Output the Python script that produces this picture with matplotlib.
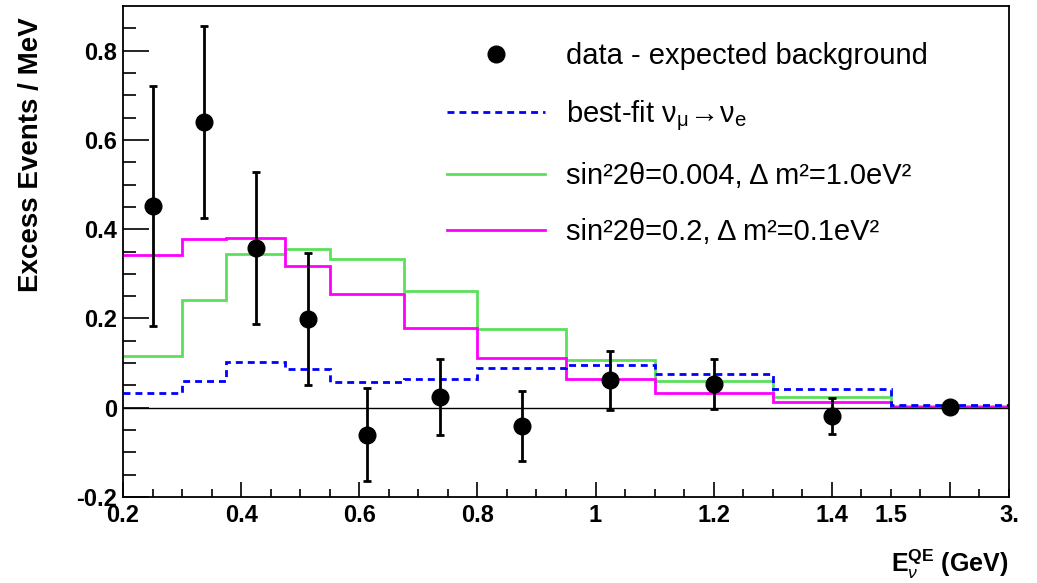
import numpy as np
import matplotlib
matplotlib.use('Agg')
import matplotlib.pyplot as plt
from matplotlib.lines import Line2D
from matplotlib.ticker import FixedLocator, FuncFormatter

plt.rcParams['font.family'] = 'Liberation Sans'
plt.rcParams['mathtext.fontset'] = 'custom'
plt.rcParams['mathtext.rm'] = 'Liberation Sans'
plt.rcParams['mathtext.it'] = 'Liberation Sans:italic'
plt.rcParams['mathtext.bf'] = 'Liberation Sans:bold'

# Bin edges (GeV), the last bin 1.5-3.0 is drawn compressed
edges = [0.2, 0.3, 0.375, 0.475, 0.55, 0.675, 0.8, 0.95, 1.1, 1.3, 1.5, 3.0]

# Data - expected background
x_pts = [0.25, 0.3375, 0.425, 0.5125, 0.6125, 0.7375, 0.875, 1.025, 1.2, 1.4, 2.25]
y_pts = [0.452, 0.640, 0.358, 0.199, -0.060, 0.024, -0.041, 0.062, 0.053, -0.019, 0.001]
y_err = [0.268, 0.216, 0.170, 0.148, 0.105, 0.085, 0.079, 0.066, 0.056, 0.040, 0.006]

# Model histograms
best_fit = [0.033, 0.061, 0.103, 0.087, 0.058, 0.064, 0.088, 0.096, 0.076, 0.043, 0.006]
green_model = [0.116, 0.241, 0.344, 0.355, 0.333, 0.261, 0.176, 0.107, 0.061, 0.025, 0.003]
magenta_model = [0.342, 0.377, 0.381, 0.318, 0.255, 0.178, 0.112, 0.065, 0.034, 0.013, 0.002]

labels = ['data - expected background',
          r'best-fit $\mathrm{\nu_{\mu}\!\rightarrow\!\nu_{e}}$',
          'sin²2θ=0.004, Δ m²=1.0eV²',
          'sin²2θ=0.2, Δ m²=0.1eV²']

# tick labels
x_major = [0.2, 0.4, 0.6, 0.8, 1.0, 1.2, 1.4, 2.25]
x_special = {1.5: '1.5', 3.0: '3.'}


# axis scale: linear up to 1.5, then 1.5-3.0 squeezed into 0.2 units
def fwd(x):
    x = np.asarray(x, dtype=float)
    return np.where(x <= 1.5, x, 1.5 + (x - 1.5) * 0.2 / 1.5)


def inv(y):
    y = np.asarray(y, dtype=float)
    return np.where(y <= 1.5, y, 1.5 + (y - 1.5) * 1.5 / 0.2)


def major_fmt(v, pos):
    if v > 1.5:
        return ''
    return f'{v:g}'


def minor_fmt(v, pos):
    for k, s in x_special.items():
        if abs(v - k) < 1e-6:
            return s
    return ''


fig = plt.figure(figsize=(10.37, 5.83), dpi=100)
ax = fig.add_axes([0.1186, 0.1475, 0.8544, 0.8422])
ax.set_xscale('function', functions=(fwd, inv))

ax.axhline(0, color='black', lw=1)
ax.stairs(green_model, edges, baseline=None, color='#5ce05c', lw=2)
ax.stairs(magenta_model, edges, baseline=None, color='#ff00ff', lw=2)
ax.stairs(best_fit, edges, baseline=None, color='#0000ff', lw=2, linestyle=(0, (2.5, 1.8)))
ax.errorbar(x_pts, y_pts, yerr=y_err, fmt='o', color='black', ms=12,
            elinewidth=2, capsize=3, capthick=2)

ax.set_xlim(0.2, 3.0)
ax.set_ylim(-0.2, 0.9)

# x ticks: majors every 0.2, minors every 0.05 (in drawn units)
disp_minor = np.round(np.arange(0.25, 1.71, 0.05), 4)
minor_x = [float(inv(v)) for v in disp_minor
           if not any(abs(float(inv(v)) - m) < 1e-6 for m in x_major)]
ax.xaxis.set_major_locator(FixedLocator(x_major))
ax.xaxis.set_major_formatter(FuncFormatter(major_fmt))
ax.xaxis.set_minor_locator(FixedLocator(minor_x))
ax.xaxis.set_minor_formatter(FuncFormatter(minor_fmt))

# y ticks
ax.set_yticks([-0.2, 0, 0.2, 0.4, 0.6, 0.8])
ax.set_yticklabels(['-0.2', '0', '0.2', '0.4', '0.6', '0.8'])
ax.set_yticks(np.arange(-0.2, 0.9, 0.05), minor=True)

ax.tick_params(axis='both', which='both', direction='in', top=False, right=False,
               width=1.2, labelsize=17, colors='black')
ax.tick_params(axis='x', which='major', length=11, pad=5)
ax.tick_params(axis='x', which='minor', length=6, pad=5)
ax.tick_params(axis='y', which='major', length=19, pad=4)
ax.tick_params(axis='y', which='minor', length=9)
for lab in ax.get_xticklabels(which='both') + ax.get_yticklabels():
    lab.set_fontweight('bold')
for s in ax.spines.values():
    s.set_linewidth(1.3)

fig.text(0.03, 1 - 155 / 583, 'Excess Events / MeV', rotation=90,
         ha='center', va='center', fontsize=20, fontweight='bold')
fig.text(0.972, 0.032, r'$\mathbf{E}_{\nu}^{\mathbf{QE}}$ (GeV)',
         ha='right', va='center', fontsize=18, fontweight='bold')

handles = [Line2D([], [], marker='o', color='black', ls='none', ms=12),
           Line2D([], [], color='#0000ff', lw=2, linestyle=(0, (2.5, 1.8))),
           Line2D([], [], color='#5ce05c', lw=2),
           Line2D([], [], color='#ff00ff', lw=2)]
ax.legend(handles, labels, loc='upper left', bbox_to_anchor=(447 / 1037, 1 - 42 / 583),
          bbox_transform=fig.transFigure, frameon=False, fontsize=21,
          handlelength=3.35, handletextpad=0.72, labelspacing=0.98,
          borderpad=0, borderaxespad=0)

plt.savefig('out.png', dpi=100)
